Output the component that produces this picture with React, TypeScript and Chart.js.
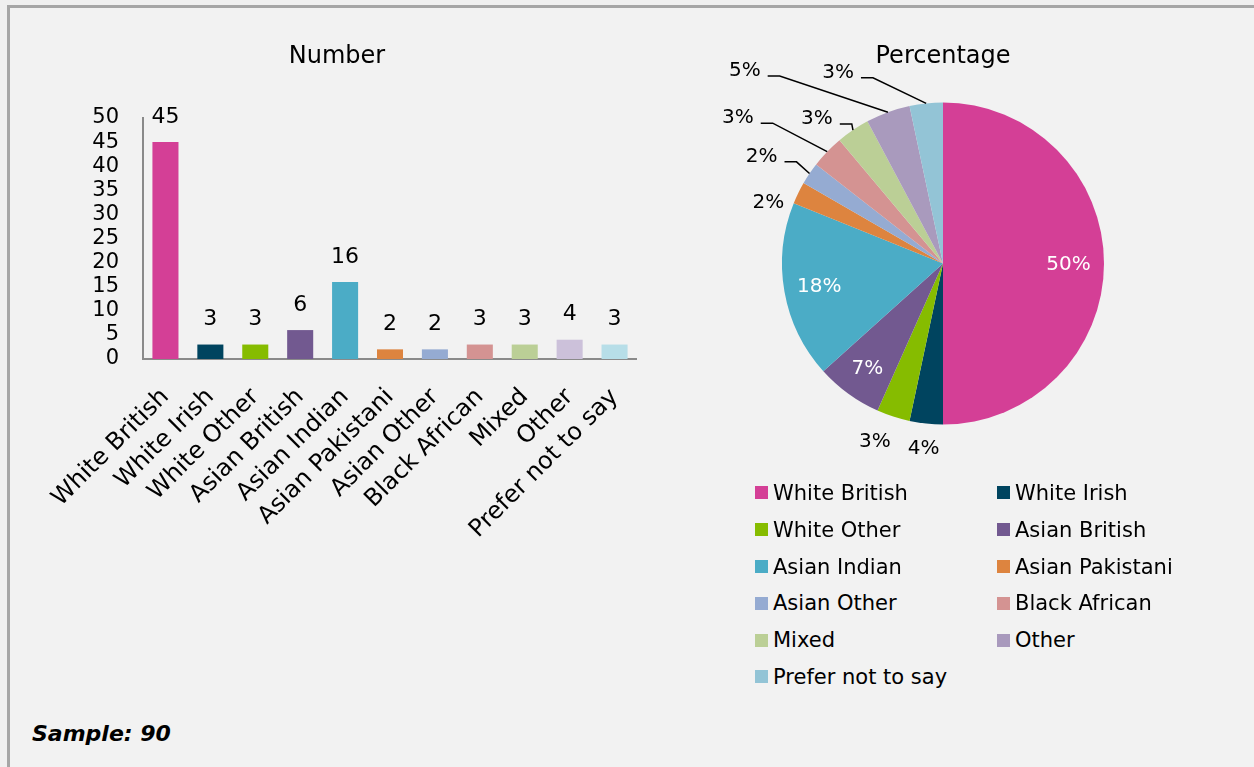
import React, { useEffect, useRef } from "react";
import { Chart, registerables } from "chart.js";

Chart.register(...registerables);

const FONT = '"DejaVu Sans", Verdana, sans-serif';

const categories = [
  "White British",
  "White Irish",
  "White Other",
  "Asian British",
  "Asian Indian",
  "Asian Pakistani",
  "Asian Other",
  "Black African",
  "Mixed",
  "Other",
  "Prefer not to say",
];
const counts = [45, 3, 3, 6, 16, 2, 2, 3, 3, 4, 3];
const pieLabels = ["50%", "4%", "3%", "7%", "18%", "2%", "2%", "3%", "3%", "5%", "3%"];
const yMax = 50;
const yStep = 5;

const pieColors = [
  "#d43f96",
  "#00445f",
  "#86bc00",
  "#725990",
  "#4bacc6",
  "#dd843f",
  "#95abd2",
  "#d49392",
  "#bbcf96",
  "#a99abd",
  "#93c4d6",
];
const barColors = [
  "#d43f96",
  "#00445f",
  "#86bc00",
  "#725990",
  "#4bacc6",
  "#dd843f",
  "#95abd2",
  "#d49392",
  "#bbcf96",
  "#ccc1da",
  "#b7dee8",
];

// label placement for pie: inside (fraction of radius at slice middle) or outside (clock angle deg, radius factor)
const piePlacement: { mode: string; r: number; a?: number }[] = [
  { mode: "in", r: 0.78 },
  { mode: "out", a: 186, r: 1.15 },
  { mode: "out", a: 201, r: 1.18 },
  { mode: "in", r: 0.8 },
  { mode: "in", r: 0.78 },
  { mode: "out", a: 289.4, r: 1.15 },
  { mode: "leader", a: 300.7, r: 1.31 },
  { mode: "leader", a: 305.5, r: 1.565 },
  { mode: "leader", a: 319.1, r: 1.196 },
  { mode: "leader", a: 314.3, r: 1.72 },
  { mode: "leader", a: 331.3, r: 1.357 },
];

const barValuePlugin = {
  id: "barValues",
  afterDatasetsDraw(chart: any) {
    const ctx = chart.ctx;
    const meta = chart.getDatasetMeta(0);
    ctx.save();
    ctx.font = `22px ${FONT}`;
    ctx.fillStyle = "#000";
    ctx.textAlign = "center";
    ctx.textBaseline = "middle";
    meta.data.forEach((bar: any, i: number) => {
      ctx.fillText(String(counts[i]), bar.x, bar.y - 25);
    });
    ctx.restore();
  },
};

const pieLabelPlugin = {
  id: "pieLabels",
  afterDatasetsDraw(chart: any) {
    const ctx = chart.ctx;
    const meta = chart.getDatasetMeta(0);
    ctx.save();
    ctx.font = `20px ${FONT}`;
    ctx.textAlign = "center";
    ctx.textBaseline = "middle";
    meta.data.forEach((arc: any, i: number) => {
      const { x, y, startAngle, endAngle, outerRadius } = arc.getProps(
        ["x", "y", "startAngle", "endAngle", "outerRadius"],
        true
      );
      const mid = (startAngle + endAngle) / 2;
      const p = piePlacement[i];
      let lx: number, ly: number;
      if (p.mode === "in") {
        lx = x + Math.cos(mid) * outerRadius * p.r;
        ly = y + Math.sin(mid) * outerRadius * p.r;
        ctx.fillStyle = "#fff";
      } else {
        const a = (((p.a as number) - 90) * Math.PI) / 180;
        lx = x + Math.cos(a) * outerRadius * p.r;
        ly = y + Math.sin(a) * outerRadius * p.r;
        ctx.fillStyle = "#000";
      }
      ctx.fillText(pieLabels[i], lx, ly + 1);
      if (p.mode === "leader") {
        const w = ctx.measureText(pieLabels[i]).width;
        const sx = lx + w / 2 + 7;
        const sy = ly + 6;
        const ex = x + Math.cos(mid) * outerRadius;
        const ey = y + Math.sin(mid) * outerRadius;
        ctx.beginPath();
        ctx.moveTo(sx, sy);
        ctx.lineTo(sx + 12, sy);
        ctx.lineTo(ex, ey);
        ctx.strokeStyle = "#000";
        ctx.lineWidth = 1.5;
        ctx.stroke();
      }
    });
    ctx.restore();
  },
};

function BarChart() {
  const ref = useRef<HTMLCanvasElement>(null);
  useEffect(() => {
    if (!ref.current) return;
    const chart = new Chart(ref.current, {
      type: "bar",
      data: {
        labels: categories,
        datasets: [
          {
            data: counts,
            backgroundColor: barColors,
            borderWidth: 0,
            barPercentage: 0.58,
            categoryPercentage: 1,
          },
        ],
      },
      options: {
        responsive: false,
        animation: false,
        layout: { padding: { left: 0, right: 0, top: 0, bottom: 0 } },
        plugins: {
          legend: { display: false },
          tooltip: { enabled: false },
          title: {
            display: true,
            text: "Number",
            color: "#000",
            font: { size: 24, weight: "normal", family: FONT },
            padding: { top: 12, bottom: 47.2 },
          },
        },
        scales: {
          x: {
            grid: { display: false, drawTicks: false },
            border: { display: true, color: "#8a8a8a", width: 2 },
            ticks: {
              autoSkip: false,
              minRotation: 45,
              maxRotation: 45,
              color: "#000",
              font: { size: 24, family: FONT },
              padding: 24,
              labelOffset: 0,
            },
            afterFit(s: any) {
              s.height = 190;
              s.paddingLeft = 0;
              s.paddingRight = 0;
            },
          },
          y: {
            min: 0,
            max: yMax,
            grid: { display: false, drawTicks: false },
            border: { display: true, color: "#8a8a8a", width: 2 },
            ticks: {
              autoSkip: false,
              stepSize: yStep,
              color: "#000",
              font: { size: 21, family: FONT },
              padding: 24,
            },
            afterFit(s: any) {
              s.width = 106;
              s.paddingTop = 0;
              s.paddingBottom = 0;
            },
          },
        },
      } as any,
      plugins: [barValuePlugin],
    });
    return () => chart.destroy();
  }, []);
  return (
    <canvas
      ref={ref}
      width={600}
      height={519}
      style={{ position: "absolute", left: 37, top: 30, width: 600, height: 519 }}
    />
  );
}

function PieChart() {
  const ref = useRef<HTMLCanvasElement>(null);
  useEffect(() => {
    if (!ref.current) return;
    const chart = new Chart(ref.current, {
      type: "pie",
      data: {
        labels: categories,
        datasets: [
          {
            data: counts,
            backgroundColor: pieColors,
            borderWidth: 0,
          },
        ],
      },
      options: {
        responsive: false,
        animation: false,
        layout: { padding: { left: 82, right: 82, top: 0, bottom: 65.5 } },
        plugins: {
          legend: { display: false },
          tooltip: { enabled: false },
          title: {
            display: true,
            text: "Percentage",
            color: "#000",
            font: { size: 24, weight: "normal", family: FONT },
            padding: { top: 12, bottom: 31.7 },
          },
        },
      } as any,
      plugins: [pieLabelPlugin],
    });
    return () => chart.destroy();
  }, []);
  return (
    <canvas
      ref={ref}
      width={486}
      height={460}
      style={{ position: "absolute", left: 700, top: 30, width: 486, height: 460 }}
    />
  );
}

function Legend() {
  return (
    <div style={{ position: "absolute", left: 755, top: 474.6, width: 490 }}>
      {categories.map((c, i) => {
        const col = i % 2;
        const row = Math.floor(i / 2);
        return (
          <div
            key={c}
            style={{
              position: "absolute",
              left: col * 242,
              top: row * 36.8,
              height: 36.8,
              display: "flex",
              alignItems: "center",
              whiteSpace: "nowrap",
              fontFamily: FONT,
              fontSize: 21,
              color: "#000",
            }}
          >
            <span
              style={{
                display: "inline-block",
                width: 13,
                height: 13,
                background: pieColors[i],
                marginRight: 5,
              }}
            />
            <span>{c}</span>
          </div>
        );
      })}
    </div>
  );
}

export default function App() {
  return (
    <div style={{ position: "fixed", left: 0, top: 0, width: 1254, height: 767, background: "#f0f0f0", overflow: "hidden" }}>
      <div
        style={{
          position: "absolute",
          left: 7,
          top: 5,
          width: 1270,
          height: 790,
          border: "3px solid #a6a6a6",
          background: "#f2f2f2",
          boxSizing: "border-box",
        }}
      />
      <BarChart />
      <PieChart />
      <Legend />
      <div
        style={{
          position: "absolute",
          left: 32,
          top: 721,
          fontFamily: FONT,
          fontSize: 22,
          fontWeight: "bold",
          fontStyle: "italic",
          color: "#000",
          whiteSpace: "nowrap",
        }}
      >
        Sample: 90
      </div>
    </div>
  );
}
